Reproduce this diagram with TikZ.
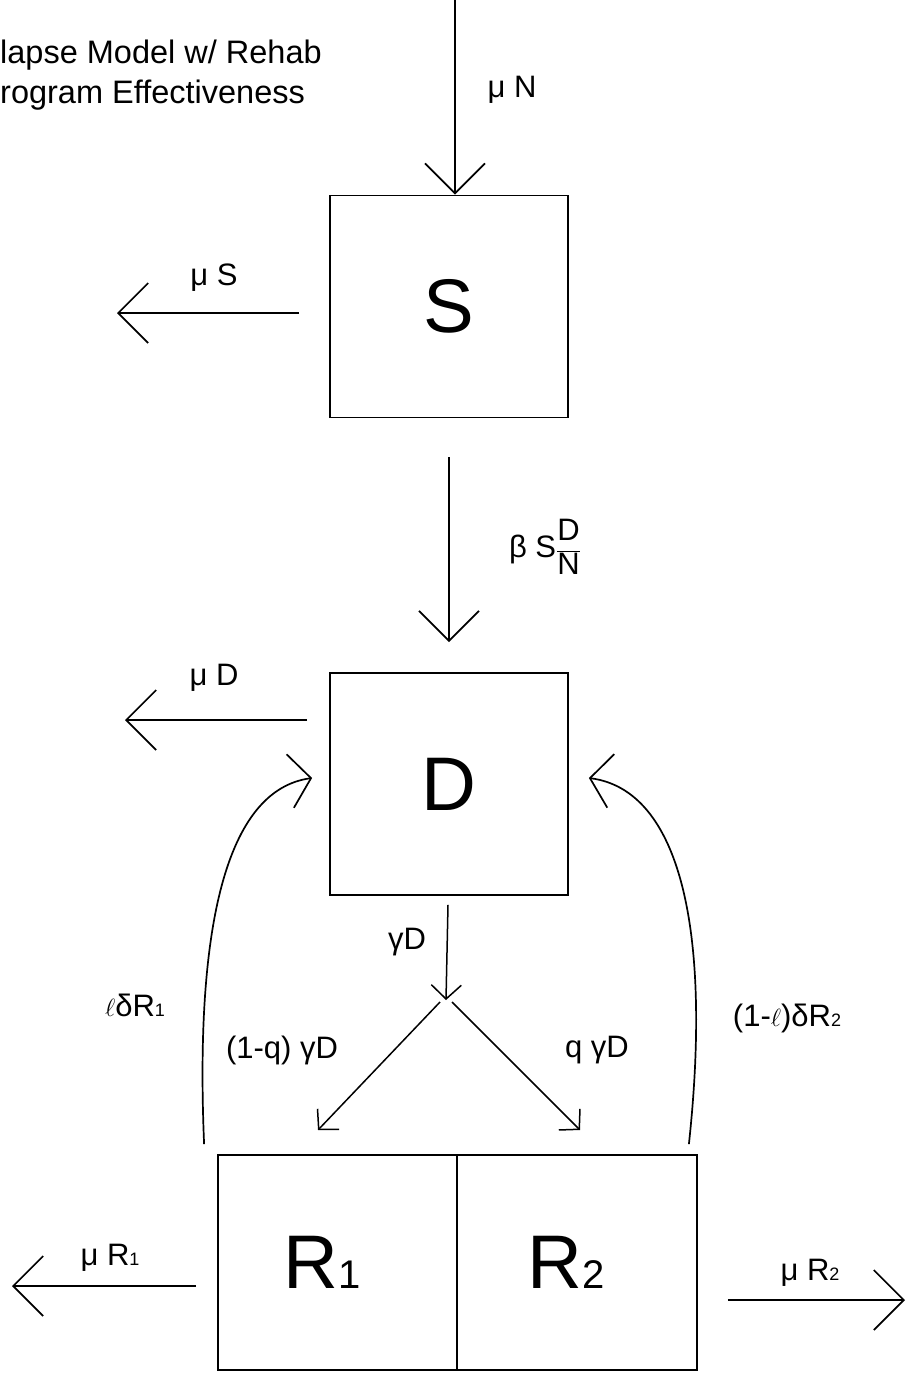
\documentclass[tikz,border=0pt]{standalone}
\usepackage{fontspec}
\setmainfont{Liberation Sans}
\usetikzlibrary{arrows.meta,positioning,calc}

\newcommand{\bigsub}[1]{{\fontsize{40}{44}\selectfont #1}}
\newcommand{\smallsub}[1]{{\fontsize{18}{20}\selectfont #1}}

\tikzset{
  box/.style={draw, line width=1.8pt, minimum width=238pt, minimum height=222pt, inner sep=0pt, font=\fontsize{76}{84}\selectfont},
  flow/.style={line width=1.7pt, -{Straight Barb[length=30pt,width=60pt]}},
  backflow/.style={line width=1.7pt, -{Straight Barb[length=21pt,width=54pt]}},
  smallflow/.style={line width=1.5pt, -{Straight Barb[length=14pt,width=30pt]}},
  rate/.style={font=\fontsize{31}{34}\selectfont, inner sep=0pt},
  heading/.style={font=\fontsize{32.5}{36}\selectfont, inner sep=0pt, anchor=west},
}

\begin{document}
\begin{tikzpicture}[x=1pt,y=-1pt]
    \useasboundingbox (0,0) rectangle (906,1374);

    % Title (cut at the left edge)
    \node[heading] (title1) at (0,55) {lapse Model w/ Rehab};
    \node[heading] (title2) at (0,95) {rogram Effectiveness};

    % Compartments
    \node[box] (S) at (449,306.5) {S};
    \node[box] (D) at (449,784) {D};
    \node[box, minimum width=239pt, minimum height=215pt] (R1) at (337.5,1262.5) {R\bigsub{1}\hspace*{30pt}};
    \node[box, minimum width=240pt, minimum height=215pt] (R2) at (577,1262.5) {R\bigsub{2}\hspace*{22pt}};

    % Recruitment and deaths
    \coordinate (inN) at (455,0);
    \draw[flow] (inN) -- (inN |- S.north);
    \node[rate] (muN) at (512,90) {μ N};

    \coordinate (outS) at (117,313);
    \draw[flow] ([xshift=-30pt,yshift=-6.5pt]S.west) -- (outS);
    \node[rate] (muS) at (214,278) {μ S};

    \coordinate (outD) at (125,720);
    \draw[flow] ([xshift=-22pt,yshift=64pt]D.west) -- (outD);
    \node[rate] (muD) at (214,678) {μ D};

    \coordinate (outR1) at (12,1286);
    \draw[flow] ([xshift=-21pt,yshift=-23.5pt]R1.west) -- (outR1);
    \node[rate] (muR1) at (110,1258) {μ R\smallsub{1}};

    \coordinate (outR2) at (905,1300);
    \draw[flow] ([xshift=30pt,yshift=-37.5pt]R2.east) -- (outR2);
    \node[rate] (muR2) at (810,1273) {μ R\smallsub{2}};

    % Infection
    \draw[flow] ([yshift=-39pt]S.south) -- ([yshift=30pt]D.north);
    \node[rate] (beta) at (545,547) {β S${\displaystyle\frac{\mbox{D}}{\mbox{N}}}$};

    % Treatment split
    \coordinate (split) at (446,1000);
    \draw[smallflow] ([xshift=-1pt,yshift=-9pt]D.south) -- (split);
    \node[rate] (gam) at (407,942) {γD};
    \coordinate (toR1) at (318,1130);
    \coordinate (toR2) at (580,1130);
    \draw[smallflow] ([xshift=-6pt,yshift=-2pt]split) -- (toR1);
    \draw[smallflow] ([xshift=6pt,yshift=-2pt]split) -- (toR2);
    \node[rate] (leftrate) at (282,1050) {(1-q) γD};
    \node[rate] (rightrate) at (597,1050) {q γD};

    % Relapse
    \draw[backflow] ([xshift=-13pt,yshift=10pt]R1.north west) .. controls (195,930) and (225,790) .. ([xshift=-17pt,yshift=6pt]D.west);
    \draw[backflow] ([xshift=-9pt,yshift=10pt]R2.north east) .. controls (712,930) and (680,790) .. ([xshift=20pt,yshift=6pt]D.east);
    \node[rate] (relR1) at (135,1005) {$\ell$δR\smallsub{1}};
    \node[rate] (relR2) at (787,1018) {(1-$\ell$)δR\smallsub{2}};
\end{tikzpicture}
\end{document}
